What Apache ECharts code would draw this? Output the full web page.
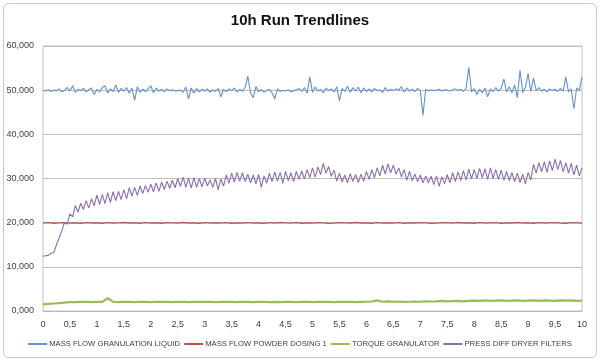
<!DOCTYPE html>
<html>
<head>
<meta charset="utf-8">
<script src="https://cdn.jsdelivr.net/npm/echarts@6/dist/echarts.min.js"></script>
<style>
html,body{margin:0;padding:0;background:#fff;}
#chart{width:600px;height:362px;}
</style>
</head>
<body>
<div id="chart"></div>
<script>
// ---- data (hours 0..10) ----
const chartTitle = '10h Run Trendlines';
const seriesNames = ['MASS FLOW GRANULATION LIQUID', 'MASS FLOW POWDER DOSING 1', 'TORQUE GRANULATOR', 'PRESS DIFF DRYER FILTERS'];
const xTicks = [0,0.5,1,1.5,2,2.5,3,3.5,4,4.5,5,5.5,6,6.5,7,7.5,8,8.5,9,9.5,10];
const yTicks = [0,10,20,30,40,50,60];

// sampled every 0.05 h
const massFlowLiquid = [
 50.0,49.8,50.1,49.7,50.0,49.9,50.3,49.6,50.0,50.6,
 49.8,51.0,49.5,50.2,49.9,50.4,49.6,50.1,50.5,49.0,
 50.2,49.6,50.6,51.0,49.4,50.3,49.7,51.2,49.5,50.4,
 49.8,50.6,49.3,50.5,47.7,50.8,49.5,50.2,49.7,50.3,
 51.0,49.4,50.5,49.8,50.2,49.6,50.3,49.9,50.1,49.8,
 49.9,50.0,49.5,50.7,48.0,50.5,49.3,50.4,49.6,50.2,
 49.8,50.3,49.5,50.1,49.7,50.4,48.5,50.2,49.6,50.3,
 49.9,50.5,49.6,50.2,49.8,50.6,53.2,49.4,48.3,50.8,
 49.7,50.1,49.5,49.9,50.2,49.4,48.0,50.3,49.7,50.0,
 49.8,50.1,49.6,49.9,50.1,50.4,49.7,50.6,49.3,53.0,
 49.5,50.7,49.8,50.2,49.4,50.5,49.9,50.3,49.6,50.8,
 47.6,50.4,49.7,50.9,49.5,50.6,49.8,50.7,49.4,50.5,
 49.7,50.3,49.6,50.4,49.9,50.1,49.5,50.6,49.8,50.2,
 49.9,50.3,50.0,50.8,49.6,50.5,49.8,50.2,49.7,50.4,
 49.9,44.3,50.2,49.8,50.1,49.9,50.0,50.2,49.8,50.1,
 50.0,49.8,50.1,50.3,49.9,50.2,49.7,50.4,55.2,49.6,
 50.3,49.0,50.2,49.4,50.5,48.5,50.3,49.7,50.6,49.8,
 50.4,52.5,49.6,50.8,49.4,51.2,48.3,54.5,49.5,50.6,
 53.8,49.7,52.8,49.9,50.6,49.8,50.2,49.6,50.3,49.9,
 50.2,49.7,50.4,49.8,53.0,49.6,50.3,45.8,50.5,49.9,
 53.0
];

// sampled every 0.1 h
const massFlowPowder = [
 19.9,20.0,19.85,19.95,20.0,19.9,19.95,19.85,20.0,19.9,
 19.95,19.85,20.0,19.9,19.95,20.05,19.9,19.95,19.85,20.0,
 19.9,19.95,19.85,20.0,19.95,19.9,20.05,19.9,19.95,19.85,
 20.0,19.9,19.95,19.9,20.0,19.85,19.95,19.9,20.0,19.9,
 19.95,19.85,20.0,19.9,20.05,19.95,19.9,20.0,19.85,19.95,
 19.9,20.0,19.95,19.85,19.9,20.0,19.95,19.9,20.05,19.9,
 19.95,19.85,20.0,19.9,19.95,19.9,20.0,19.85,19.95,19.9,
 20.0,19.95,19.85,19.9,20.0,19.95,19.9,20.05,19.9,19.95,
 19.85,20.0,19.9,19.95,20.0,19.85,19.95,19.9,20.05,19.9,
 19.95,19.85,20.0,19.9,19.95,20.0,19.9,19.85,20.0,19.95,
 19.9
];

// sampled every 0.1 h
const torqueGranulator = [
 1.5,1.6,1.7,1.8,1.9,2.0,2.0,2.05,2.1,2.0,
 2.1,2.05,2.9,2.1,2.0,2.1,2.05,2.0,2.1,2.05,
 2.0,2.1,2.05,2.1,2.0,2.05,2.1,2.0,2.05,2.1,
 2.05,2.1,2.0,2.05,2.1,2.05,2.0,2.1,2.05,2.0,
 2.05,2.1,2.0,2.05,2.0,2.1,2.05,2.0,2.05,2.1,
 2.0,2.05,2.1,2.05,2.0,2.1,2.05,2.1,2.0,2.05,
 2.1,2.15,2.4,2.1,2.2,2.1,2.15,2.05,2.1,2.15,
 2.1,2.2,2.15,2.2,2.3,2.2,2.25,2.3,2.2,2.3,
 2.35,2.3,2.4,2.3,2.35,2.4,2.3,2.35,2.4,2.3,
 2.35,2.4,2.3,2.4,2.35,2.3,2.4,2.35,2.4,2.3,
 2.35
];

// sampled every 0.05 h
const pressDiffDryer = [
 12.4,12.5,12.6,13.1,13.2,15.0,16.6,18.2,20.1,19.6,
 22.0,21.3,23.9,22.4,24.4,23.0,25.0,23.3,25.4,23.8,
 26.3,24.1,26.4,24.3,26.8,24.6,27.0,25.0,27.1,25.2,
 27.5,25.4,27.9,26.0,28.0,26.2,28.3,26.6,28.4,26.9,
 28.7,27.0,29.0,27.1,29.2,27.5,29.4,27.8,29.6,27.9,
 30.0,28.2,30.3,28.0,30.1,27.8,30.2,28.0,30.0,28.1,
 30.1,28.3,29.7,28.0,30.0,27.4,29.9,28.3,30.8,28.9,
 31.2,29.2,31.4,29.4,31.3,29.3,31.0,29.0,30.8,28.8,
 30.9,28.0,30.6,28.9,31.2,29.3,31.5,29.4,31.4,28.9,
 31.6,29.5,31.3,29.3,31.6,29.8,31.7,29.9,32.0,30.2,
 32.4,30.3,32.6,30.9,33.4,31.2,32.7,30.5,31.9,29.4,
 31.2,29.2,30.8,29.0,31.1,29.3,30.9,29.1,31.0,29.4,
 31.6,29.8,32.0,30.2,32.4,30.6,33.0,31.0,33.3,31.3,
 33.0,31.0,32.4,30.4,32.0,29.6,31.6,29.5,31.0,29.3,
 30.8,29.0,30.6,29.0,30.5,28.6,30.6,28.2,30.4,28.8,
 30.9,29.0,31.3,29.3,31.5,29.5,31.8,29.7,32.1,29.9,
 32.0,30.0,32.3,30.2,32.2,29.8,32.4,30.0,32.0,29.8,
 31.9,29.6,31.6,29.5,31.4,29.3,31.2,29.1,31.0,28.8,
 31.4,29.7,33.2,31.2,33.6,31.5,33.8,31.4,34.0,31.8,
 34.4,32.0,34.1,31.5,33.6,31.2,33.4,30.8,33.0,30.6,
 32.4
];

const seriesColors = ['#6393cb', '#c0504d', '#9bbb59', '#8a6fae'];
const lineWidths = [1.1, 1.4, 2.2, 1.1];

function toPairs(values) {
  const n = values.length - 1;
  return values.map((v, i) => [i * 10 / n, v]);
}
const comma = s => String(s).replace('.', ',');

const chart = echarts.init(document.getElementById('chart'), null, {renderer: 'canvas'});
const allData = [massFlowLiquid, massFlowPowder, torqueGranulator, pressDiffDryer];

chart.setOption({
  animation: false,
  backgroundColor: '#fff',
  title: {
    text: chartTitle,
    left: 'center',
    top: 8,
    textStyle: {fontFamily: 'Liberation Sans', fontWeight: 'bold', fontSize: 15, color: '#111'}
  },
  graphic: [{
    type: 'rect',
    shape: {x: 3.5, y: 3.5, width: 593, height: 354, r: 5},
    style: {fill: 'none', stroke: '#c8c8c8', lineWidth: 1},
    z: -1, silent: true
  }],
  legend: {
    bottom: 14,
    left: 'center',
    padding: 0,
    itemWidth: 19,
    itemHeight: 2,
    itemGap: 4,
    icon: 'rect',
    data: seriesNames,
    textStyle: {fontFamily: 'Liberation Sans', fontSize: 7.7, color: '#404040', padding: [0,0,0,-3]}
  },
  grid: {
    left: 43, right: 18, top: 46, bottom: 51,
    show: true, borderColor: '#c4c4c4', borderWidth: 1, containLabel: false
  },
  xAxis: {
    type: 'value', min: 0, max: 10, interval: 0.5,
    axisLine: {show: true, lineStyle: {color: '#b8b8b8'}},
    axisTick: {show: false},
    splitLine: {show: false},
    axisLabel: {
      color: '#404040', fontFamily: 'Liberation Sans', fontSize: 9, margin: 9,
      formatter: v => xTicks.includes(v) ? comma(v) : ''
    }
  },
  yAxis: {
    type: 'value', min: 0, max: 60, interval: 10,
    axisLine: {show: false},
    axisTick: {show: false},
    splitLine: {show: true, lineStyle: {color: '#bdbdbd', width: 1}},
    axisLabel: {
      color: '#404040', fontFamily: 'Liberation Sans', fontSize: 9, margin: 9,
      formatter: v => yTicks.includes(v) ? comma(v.toFixed(3)) : ''
    }
  },
  series: seriesNames.map((name, k) => ({
    name: name,
    type: 'line',
    data: toPairs(allData[k]),
    showSymbol: false,
    symbol: 'none',
    color: seriesColors[k],
    lineStyle: {width: lineWidths[k], color: seriesColors[k]},
    itemStyle: {color: seriesColors[k]}
  }))
});
</script>
</body>
</html>
